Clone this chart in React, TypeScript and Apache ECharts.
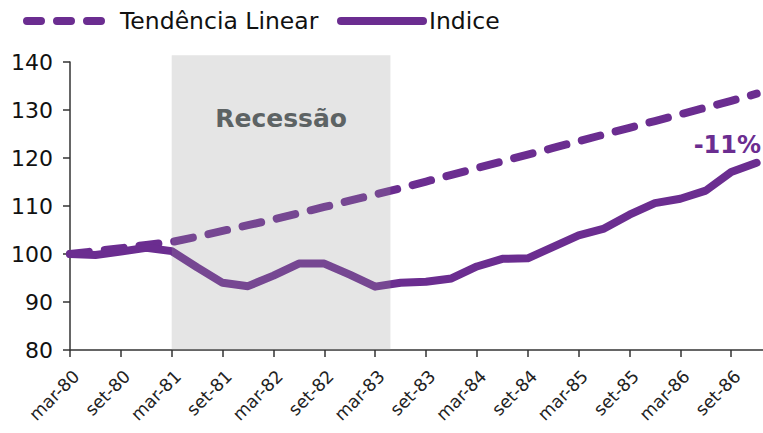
import React, { useEffect, useRef } from "react";
import * as echarts from "echarts";

const tickLabels = [
  "mar-80", "set-80", "mar-81", "set-81", "mar-82", "set-82", "mar-83",
  "set-83", "mar-84", "set-84", "mar-85", "set-85", "mar-86", "set-86",
];

// quarterly observations, mar-80 .. dez-86
const indiceValues = [
  100, 99.8, 100.5, 101.3, 100.6, 97.2, 94, 93.3, 95.5, 98, 98, 95.7, 93.2, 94,
  94.2, 94.9, 97.4, 99, 99.1, 101.5, 103.9, 105.3, 108.2, 110.6, 111.5, 113.2, 117.1, 119,
];

const trendValues = [
  100, 100.6, 101.2, 101.9, 102.5, 103.6, 104.8, 106.0, 107.2, 108.5, 109.8, 111.1, 112.4, 113.7,
  115.1, 116.5, 117.9, 119.3, 120.7, 122.1, 123.5, 124.9, 126.3, 127.7, 129.1, 130.5, 131.9, 133.4,
];

const recessionStart = 4;
const recessionEnd = 12.6;
const recessionBottom = 80;
const recessionTop = 141.4;
const recessionLabel = "Recessão";
const gapLabel = "-11%";

const PURPLE = "#6b2d90";
const FONT = "'DejaVu Sans', Verdana, sans-serif";

const DASH_ICON =
  "path://M4,0 H18 A4,4 0 0 1 18,8 H4 A4,4 0 0 1 4,0 Z " +
  "M34,0 H48 A4,4 0 0 1 48,8 H34 A4,4 0 0 1 34,0 Z " +
  "M64,0 H78 A4,4 0 0 1 78,8 H64 A4,4 0 0 1 64,0 Z";
const SOLID_ICON = "path://M4,0 H86 A4,4 0 0 1 86,8 H4 A4,4 0 0 1 4,0 Z";

export default function App() {
  const ref = useRef<HTMLDivElement>(null);

  useEffect(() => {
    if (!ref.current) return;
    const chart = echarts.init(ref.current, undefined, { renderer: "svg" });

    const lastIdx = indiceValues.length - 1;
    const indiceData = indiceValues.map((v, i) => [i, v]);
    const trendData = trendValues.map((v, i) => [i, v]);

    chart.setOption({
      animation: false,
      backgroundColor: "#ffffff",
      textStyle: { fontFamily: FONT },
      legend: [
        {
          data: [{ name: "Tendência Linear", icon: DASH_ICON }],
          left: 18,
          top: 4,
          itemWidth: 82,
          itemHeight: 8,
          textStyle: { fontSize: 23.5, color: "#111", fontFamily: FONT, padding: [0, 0, 0, 10] },
        },
        {
          data: [{ name: "Indice", icon: SOLID_ICON }],
          left: 332,
          top: 4,
          itemWidth: 90,
          itemHeight: 8,
          textStyle: { fontSize: 23.5, color: "#111", fontFamily: FONT, padding: [0, 0, 0, -3] },
        },
      ],
      grid: { left: 70, right: 0, top: 62, bottom: 83, containLabel: false },
      xAxis: {
        type: "value",
        min: 0,
        max: 27.25,
        interval: 2,
        splitLine: { show: false },
        axisLine: { lineStyle: { color: "#333", width: 1.5 } },
        axisTick: { show: true, length: 7, lineStyle: { color: "#333", width: 1.5 } },
        axisLabel: {
          rotate: 45,
          fontSize: 17.5,
          color: "#222",
          margin: 17,
          verticalAlign: "top",
          showMaxLabel: false,
          formatter: (v: number) => {
            const k = Math.round(v);
            if (Math.abs(v - k) > 1e-6 || k % 2 !== 0) return "";
            return tickLabels[k / 2] ?? "";
          },
        },
      },
      yAxis: {
        type: "value",
        min: 80,
        max: 140,
        interval: 10,
        splitLine: { show: false },
        axisLine: { show: true, lineStyle: { color: "#333", width: 1.5 } },
        axisTick: { show: true, length: 7, lineStyle: { color: "#333", width: 1.5 } },
        axisLabel: { fontSize: 22, color: "#111", margin: 17 },
      },
      series: [
        {
          name: "Tendência Linear",
          type: "line",
          data: trendData,
          symbol: "none",
          z: 2,
          lineStyle: { color: PURPLE, width: 8, type: [19, 16], cap: "round", join: "round" },
          itemStyle: { color: PURPLE },
        },
        {
          name: "Indice",
          type: "line",
          data: indiceData,
          symbol: "none",
          z: 3,
          lineStyle: { color: PURPLE, width: 8, cap: "round", join: "round" },
          itemStyle: { color: PURPLE },
          markPoint: {
            silent: true,
            symbol: "circle",
            symbolSize: 0,
            data: [
              {
                coord: [lastIdx, indiceValues[lastIdx]],
                label: {
                  show: true,
                  formatter: gapLabel,
                  position: [-63, -18],
                  align: "left",
                  verticalAlign: "middle",
                  fontSize: 24,
                  fontWeight: "bold",
                  color: PURPLE,
                  fontFamily: FONT,
                },
              },
            ],
          },
        },
      ],
    });

    // recession band, placed through the chart's own scales
    const p0 = chart.convertToPixel({ gridIndex: 0 }, [recessionStart, recessionTop]) as number[];
    const p1 = chart.convertToPixel({ gridIndex: 0 }, [recessionEnd, recessionBottom]) as number[];
    if (p0 && p1) {
      const w = p1[0] - p0[0];
      const h = p1[1] - p0[1];
      chart.setOption({
        graphic: [
          {
            type: "rect",
            z: 50,
            silent: true,
            shape: { x: p0[0], y: p0[1], width: w, height: h },
            style: { fill: "rgba(150,150,150,0.25)" },
          },
          {
            type: "text",
            z: 51,
            silent: true,
            x: p0[0] + w / 2,
            y: p0[1] + 63,
            style: {
              text: recessionLabel,
              fill: "#5d6364",
              font: `bold 25px ${FONT}`,
              align: "center",
              verticalAlign: "middle",
            },
          },
        ],
      });
    }

    return () => chart.dispose();
  }, []);

  return (
    <div
      ref={ref}
      style={{ position: "fixed", left: 0, top: 0, width: 763, height: 433, background: "#fff" }}
    />
  );
}
